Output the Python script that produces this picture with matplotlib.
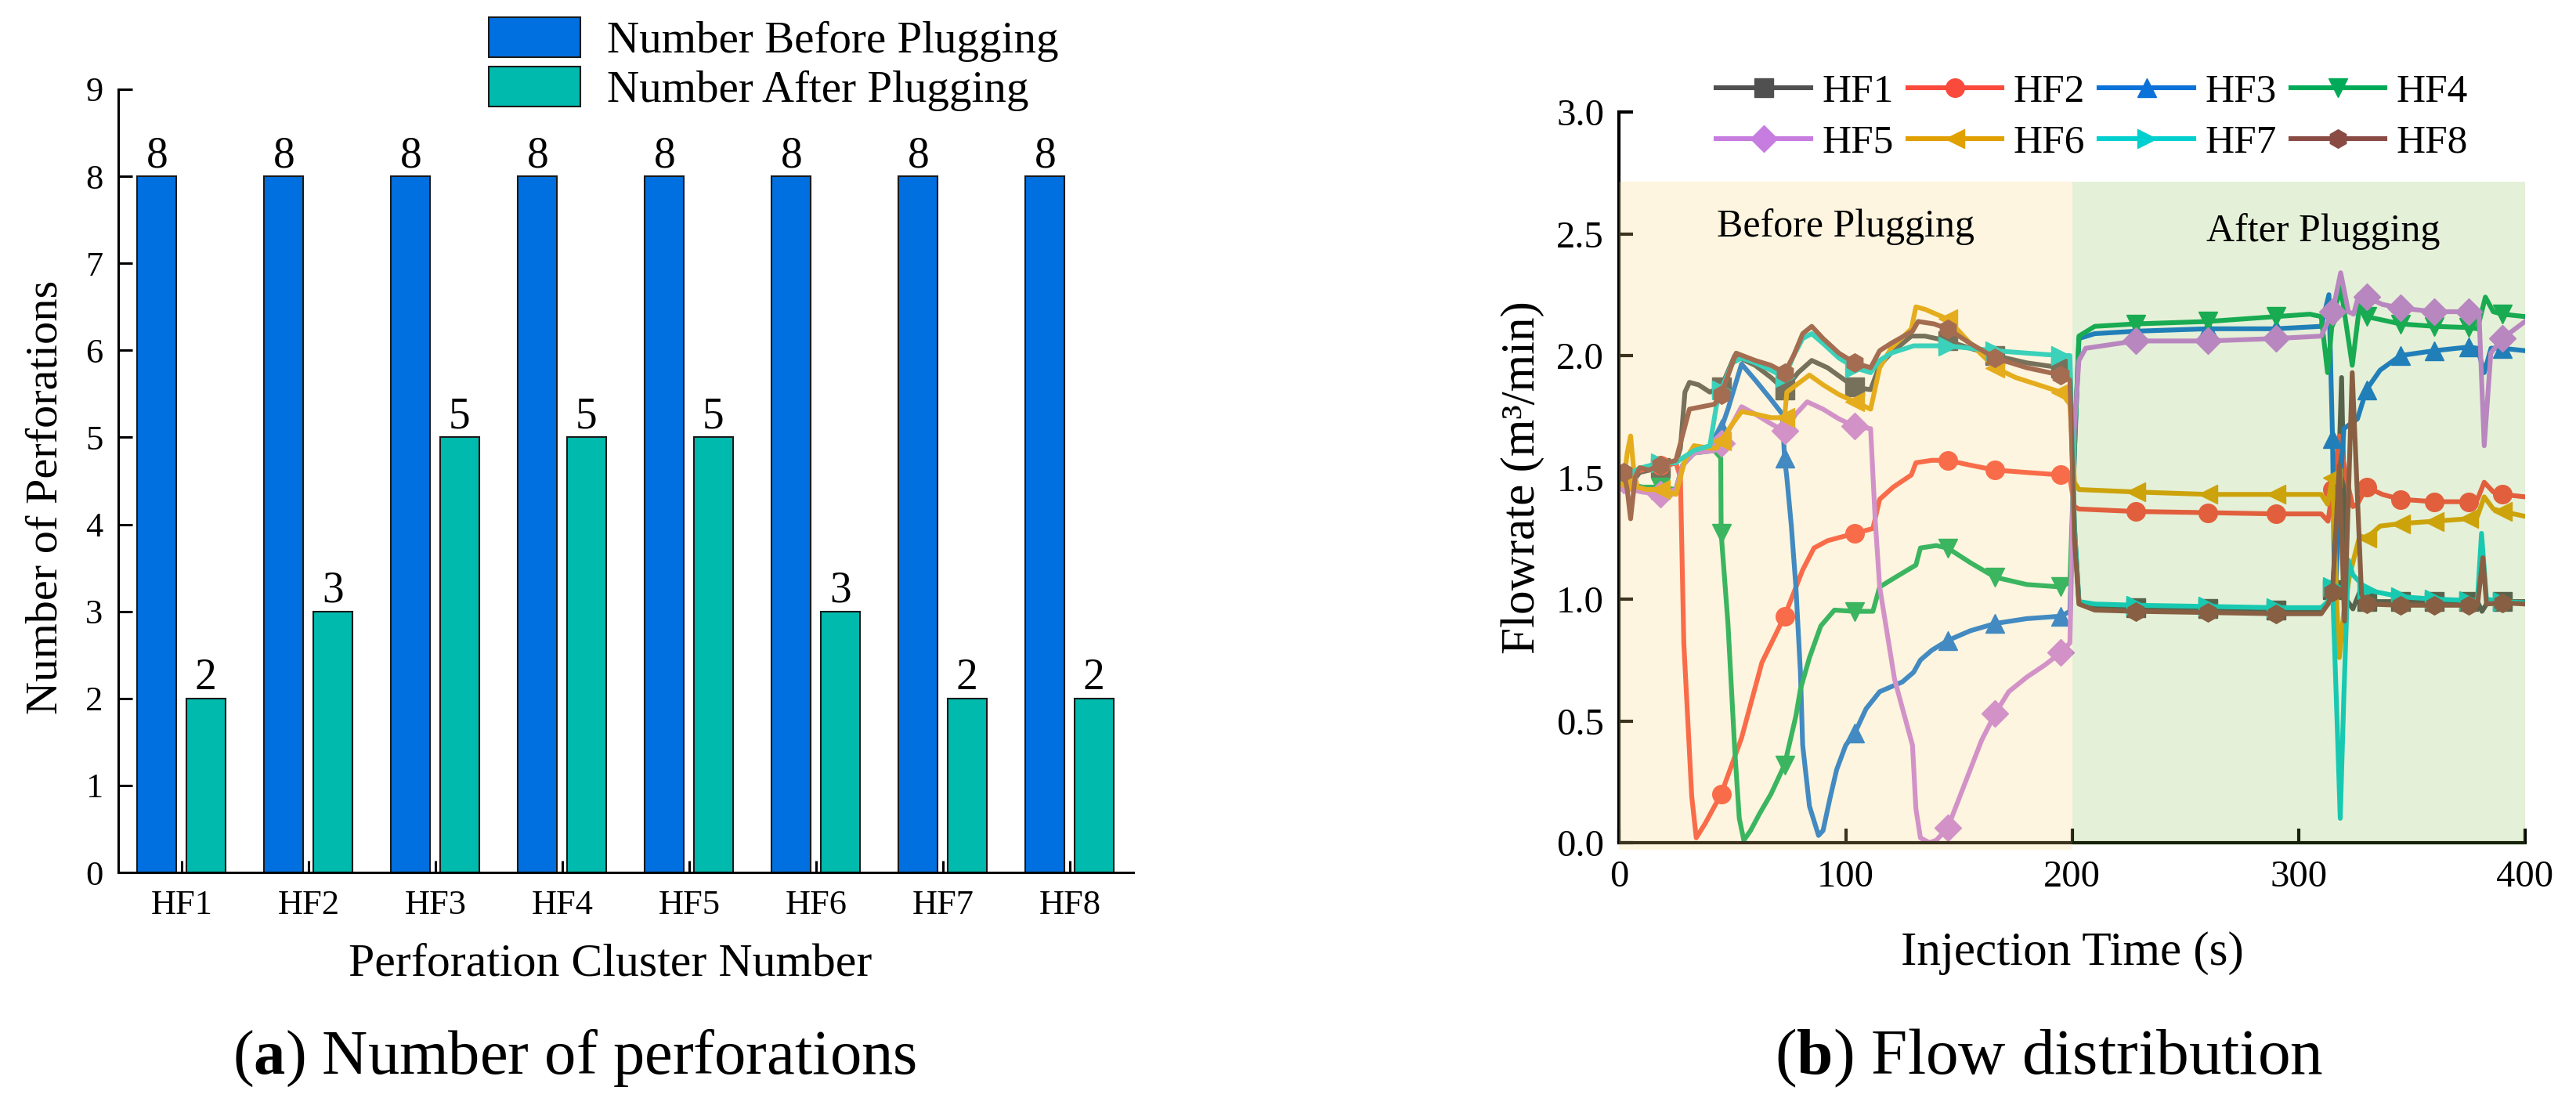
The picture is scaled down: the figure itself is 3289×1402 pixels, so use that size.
import numpy as np
import matplotlib
matplotlib.use('Agg')
import matplotlib.pyplot as plt
from matplotlib.patches import Rectangle
from matplotlib.lines import Line2D

plt.rcParams['font.family'] = ['Liberation Serif', 'DejaVu Serif']
plt.rcParams['mathtext.fontset'] = 'custom'
plt.rcParams['mathtext.rm'] = 'Liberation Serif'
plt.rcParams['mathtext.bf'] = 'Liberation Serif:bold'

# ---- (a) perforation counts
clusters = ['HF1', 'HF2', 'HF3', 'HF4', 'HF5', 'HF6', 'HF7', 'HF8']
before_plug = [8, 8, 8, 8, 8, 8, 8, 8]
after_plug = [2, 3, 5, 5, 5, 3, 2, 2]

# ---- (b) flow distribution, (time s, flowrate m3/min)
hf1_pts = [(0, 1.50), (2, 1.50), (5, 1.47), (9, 1.52), (18, 1.54), (25, 1.56), (27, 1.62), (29, 1.85),
           (31, 1.89), (35, 1.88), (40, 1.85), (45, 1.87), (51, 2.00), (60, 1.96), (67, 1.91), (73, 1.86),
           (79, 1.93), (85, 1.98), (92, 1.95), (98, 1.91), (104, 1.87), (111, 1.86), (115, 1.96), (120, 2.01),
           (129, 2.08), (135, 2.08), (145, 2.06), (155, 2.03), (166, 2.00), (180, 1.97), (195, 1.95), (199, 1.93),
           (201, 1.30), (203, 0.99), (210, 0.97), (228, 0.965), (260, 0.96), (290, 0.955), (310, 0.955), (313, 0.98),
           (315, 1.04), (317, 1.30), (319, 1.91), (321, 1.00), (324, 0.96), (327, 1.03), (330, 0.99), (345, 0.99),
           (360, 0.99), (375, 0.99), (379, 0.99), (381, 0.95), (383, 0.98), (390, 0.99), (400, 0.99)]
hf2_pts = [(0, 1.48), (2, 1.50), (5, 1.52), (10, 1.53), (18, 1.55), (25, 1.56), (27, 1.50), (28.5, 0.82),
           (32, 0.19), (34, 0.02), (38, 0.08), (45, 0.20), (54, 0.43), (63, 0.74), (73, 0.93), (81, 1.12),
           (86, 1.21), (92, 1.24), (104, 1.27), (112, 1.29), (115, 1.41), (121, 1.46), (129, 1.51), (131, 1.56),
           (138, 1.57), (145, 1.57), (155, 1.55), (166, 1.53), (180, 1.52), (195, 1.51), (199, 1.50), (201, 1.38),
           (203, 1.37), (228, 1.36), (260, 1.355), (290, 1.35), (310, 1.35), (313, 1.32), (315, 1.45), (318, 1.67),
           (321, 1.50), (324, 1.38), (326, 1.39), (330, 1.46), (337, 1.43), (345, 1.41), (360, 1.40), (375, 1.40),
           (379, 1.41), (382, 1.48), (386, 1.44), (390, 1.43), (400, 1.42)]
hf3_pts = [(0, 1.50), (2, 1.49), (5, 1.47), (10, 1.46), (18, 1.45), (25, 1.45), (28, 1.55), (33, 1.60),
           (40, 1.61), (42.5, 1.65), (45, 1.70), (48, 1.78), (54, 1.965), (60, 1.90), (67, 1.82), (72, 1.76),
           (73, 1.58), (74, 1.50), (76, 1.30), (78, 1.05), (80, 0.70), (81, 0.40), (84, 0.15), (88, 0.03),
           (90, 0.05), (93, 0.18), (96, 0.30), (100, 0.40), (104, 0.45), (109, 0.55), (115, 0.62), (125, 0.66),
           (130, 0.70), (133, 0.75), (138, 0.79), (145, 0.83), (155, 0.87), (166, 0.90), (180, 0.92), (195, 0.93),
           (199, 0.95), (201, 1.60), (203, 2.07), (210, 2.09), (228, 2.10), (260, 2.11), (290, 2.11), (310, 2.12),
           (313.4, 2.25), (315, 1.66), (316, 0.95), (318, 1.40), (320, 1.70), (326, 1.74), (330, 1.86), (336, 1.94),
           (345, 2.00), (360, 2.02), (375, 2.035), (379, 2.03), (382, 1.93), (385, 2.03), (390, 2.03), (400, 2.02)]
hf4_pts = [(0, 1.50), (2, 1.49), (5, 1.47), (10, 1.46), (18, 1.46), (25, 1.45), (28, 1.55), (33, 1.60),
           (42, 1.61), (44.8, 1.58), (45, 1.27), (48, 0.90), (51, 0.38), (53, 0.10), (55, 0.01), (58, 0.05),
           (62, 0.12), (67, 0.20), (73, 0.32), (78, 0.52), (80, 0.63), (84, 0.76), (89, 0.89), (95, 0.955),
           (104, 0.95), (112, 0.95), (115, 1.05), (122, 1.09), (131, 1.14), (133, 1.21), (140, 1.22), (145, 1.21),
           (155, 1.15), (166, 1.09), (180, 1.06), (195, 1.05), (199, 1.07), (201, 1.60), (203, 2.08), (210, 2.12),
           (228, 2.13), (260, 2.14), (290, 2.16), (305, 2.17), (310, 2.16), (312.8, 1.93), (315, 2.15), (318.6, 2.28),
           (323.7, 1.96), (327, 2.21), (330, 2.16), (345, 2.13), (360, 2.12), (375, 2.115), (379, 2.11),
           (382.5, 2.24), (386, 2.18), (390, 2.17), (400, 2.16)]
hf5_pts = [(0, 1.50), (2, 1.49), (5, 1.45), (10, 1.44), (18, 1.43), (25, 1.45), (28, 1.55), (33, 1.60),
           (42, 1.61), (45, 1.64), (50, 1.72), (54, 1.79), (60, 1.76), (67, 1.72), (73, 1.69), (78, 1.76),
           (83, 1.81), (90, 1.78), (97, 1.74), (104, 1.71), (111, 1.70), (113, 1.33), (115, 1.05), (121.6, 0.67),
           (129.5, 0.40), (131, 0.14), (133, 0.02), (137, 0.00), (140, 0.01), (145, 0.06), (150, 0.18), (155, 0.30),
           (160, 0.42), (166, 0.53), (172, 0.62), (180, 0.68), (188, 0.73), (195, 0.78), (199, 0.82), (201, 1.70),
           (203, 1.98), (206, 2.03), (228, 2.06), (260, 2.06), (290, 2.07), (310, 2.08), (312, 2.12), (315, 2.18),
           (318.6, 2.34), (322, 2.18), (324.3, 2.17), (326.6, 2.25), (330, 2.24), (337, 2.21), (345, 2.195),
           (360, 2.18), (375, 2.18), (379.7, 2.17), (382, 1.63), (384.9, 2.01), (390, 2.07), (400, 2.14)]
hf6_pts = [(0, 1.50), (2, 1.48), (3.5, 1.60), (5, 1.67), (6.5, 1.52), (8, 1.46), (12, 1.45), (18, 1.45),
           (25, 1.43), (29, 1.57), (33, 1.63), (40, 1.62), (43, 1.62), (45, 1.65), (50, 1.72), (54, 1.77),
           (60, 1.76), (67, 1.745), (73, 1.745), (74, 1.85), (84, 1.92), (90, 1.88), (97, 1.84), (104, 1.81),
           (111, 1.78), (115, 1.95), (120, 2.03), (129, 2.11), (131, 2.20), (135, 2.19), (145, 2.15), (155, 2.05),
           (166, 1.95), (175, 1.91), (185, 1.88), (195, 1.85), (199, 1.80), (201, 1.48), (203, 1.45), (228, 1.44),
           (260, 1.43), (290, 1.43), (310, 1.43), (312.8, 1.39), (315, 1.50), (317, 0.95), (318, 0.76), (320, 0.95),
           (322.6, 1.10), (327, 1.26), (330, 1.25), (336, 1.30), (345, 1.31), (360, 1.32), (375, 1.33), (379, 1.34),
           (382, 1.42), (386, 1.37), (390, 1.36), (400, 1.34)]
hf7_pts = [(0, 1.50), (2, 1.51), (5, 1.52), (10, 1.54), (18, 1.56), (25, 1.56), (28, 1.58), (33, 1.61),
           (40, 1.63), (43, 1.80), (45, 1.86), (50, 1.97), (54, 1.99), (60, 1.97), (67, 1.94), (73, 1.91),
           (77, 2.00), (81, 2.07), (85, 2.09), (90, 2.05), (97, 1.99), (104, 1.95), (111, 1.93), (115, 1.98),
           (120, 2.01), (130, 2.04), (145, 2.04), (155, 2.03), (166, 2.02), (180, 2.01), (195, 2.00), (199, 2.00),
           (201, 1.30), (203, 0.99), (210, 0.98), (228, 0.975), (260, 0.97), (290, 0.965), (310, 0.965), (313, 0.99),
           (315, 1.05), (317, 0.50), (318.4, 0.10), (320, 0.60), (322, 1.16), (324, 1.10), (327, 1.07), (330, 1.04),
           (334, 1.03), (345, 1.01), (360, 1.00), (375, 0.995), (379, 0.995), (380.8, 1.27), (383, 1.00),
           (390, 0.99), (400, 0.985)]
hf8_pts = [(0, 1.52), (2, 1.52), (3.5, 1.45), (5, 1.33), (7, 1.50), (9, 1.54), (13, 1.53), (18, 1.55),
           (25, 1.57), (31, 1.78), (42, 1.80), (45, 1.84), (51.6, 2.01), (60, 1.98), (67, 1.96), (73, 1.93),
           (77, 2.00), (81, 2.09), (85, 2.12), (90, 2.07), (97, 2.01), (104, 1.97), (111, 1.95), (115, 2.02),
           (120, 2.05), (129.5, 2.10), (132, 2.14), (139, 2.13), (145, 2.11), (155, 2.05), (166, 1.99), (180, 1.95),
           (195, 1.92), (199, 1.90), (201, 1.25), (203, 0.98), (210, 0.955), (228, 0.95), (260, 0.945), (290, 0.94),
           (310, 0.94), (313, 0.98), (315, 1.03), (318, 1.55), (320.3, 0.91), (323.7, 1.93), (327.8, 1.02),
           (330, 0.98), (345, 0.975), (360, 0.975), (375, 0.975), (379, 0.975), (381.4, 1.17), (383, 0.98),
           (390, 0.985), (400, 0.98)]

series_names = ['HF1', 'HF2', 'HF3', 'HF4', 'HF5', 'HF6', 'HF7', 'HF8']
series_pts = [hf1_pts, hf2_pts, hf3_pts, hf4_pts, hf5_pts, hf6_pts, hf7_pts, hf8_pts]
series_colors = ['#505050', '#FA4A3C', '#0A72D8', '#00AA58', '#C77CE0', '#E0A000', '#00CFCF', '#8B4B45']
series_markers = ['s', 'o', '^', 'v', 'D', '<', '>', 'h']
mark_times = [2, 18, 45, 73, 104, 145, 166, 195, 228, 260, 290, 315, 330, 345, 360, 375, 390]

fig = plt.figure(figsize=(32.89, 14.02), dpi=100)

# ================= (a) bar chart
ax1 = fig.add_axes([0.0459, 0.2054, 0.3940, 0.7133])
x = np.arange(len(clusters))
w = 0.31
b1 = ax1.bar(x - 0.195, before_plug, w, color='#0070E0', edgecolor='#1a1a1a', lw=1.5,
             label='Number Before Plugging')
b2 = ax1.bar(x + 0.19, after_plug, w, color='#00BAAD', edgecolor='#1a1a1a', lw=1.5,
             label='Number After Plugging')
ax1.bar_label(b1, fontsize=40, padding=0)
ax1.bar_label(b2, fontsize=40, padding=0)
ax1.set_xlim(-0.5, 7.5)
ax1.set_ylim(0, 9)
ax1.set_yticks(range(10))
ax1.set_xticks(x)
ax1.set_xticklabels(clusters)
for s in ['top', 'right']:
    ax1.spines[s].set_visible(False)
for s in ['left', 'bottom']:
    ax1.spines[s].set_linewidth(2.2)
ax1.tick_params(axis='y', direction='in', length=13, width=2.2, labelsize=32, pad=14)
ax1.tick_params(axis='x', direction='in', length=11, width=2.2, labelsize=32, pad=16)
ax1.set_xlabel('Perforation Cluster Number', fontsize=43)
ax1.xaxis.set_label_coords(0.4846, -0.131)
ax1.xaxis.label.set_verticalalignment('baseline')
ax1.set_ylabel('Number of Perforations', fontsize=42)
ax1.yaxis.set_label_coords(-0.051, 0.479)
ax1.yaxis.label.set_horizontalalignment('center')
ax1.legend(loc='upper left', bbox_to_anchor=(0.1897, 0.9843), bbox_transform=fig.transFigure,
           frameon=False, fontsize=41, borderpad=0, handlelength=2.05, handleheight=1.0,
           handletextpad=0.6, labelspacing=0.1, borderaxespad=0)

# ================= (b) flow distribution
ax2 = fig.add_axes([0.6286, 0.2325, 0.3516, 0.6655])
lines = []
for name, pts, col, mk in zip(series_names, series_pts, series_colors, series_markers):
    arr = np.array(pts)
    every = list(np.where(np.isin(arr[:, 0], mark_times))[0])
    ax2.plot(arr[:, 0], arr[:, 1], color=col, lw=4.4, marker=mk, ms=17,
             markevery=every, solid_joinstyle='round', zorder=2)
    lines.append(Line2D([], [], color=col, lw=4.4, marker=mk, ms=17))

# translucent stage shading laid over the curves
ax2.add_patch(Rectangle((0, -0.03), 200, 2.745, facecolor=(247/255, 217/255, 122/255),
                        alpha=0.24, lw=0, zorder=3, clip_on=False))
ax2.add_patch(Rectangle((200, -0.01), 200, 2.725, facecolor=(125/255, 180/255, 60/255),
                        alpha=0.2, lw=0, zorder=3, clip_on=False))
ax2.text(100, 2.53, 'Before Plugging', fontsize=36, ha='center', va='center', zorder=5)
ax2.text(311, 2.51, 'After Plugging', fontsize=36, ha='center', va='center', zorder=5)

ax2.set_xlim(0, 400)
ax2.set_ylim(0, 3.0)
ax2.set_xticks([0, 100, 200, 300, 400])
ax2.set_yticks(np.arange(0, 3.01, 0.5))
ax2.set_yticklabels(['%.1f' % v for v in np.arange(0, 3.01, 0.5)])
for s in ['top', 'right']:
    ax2.spines[s].set_visible(False)
for s in ['left', 'bottom']:
    ax2.spines[s].set_linewidth(3)
ax2.tick_params(axis='both', direction='in', length=13, width=3, labelsize=35)
ax2.tick_params(axis='y', pad=14)
ax2.tick_params(axis='x', pad=16)
ax2.set_xlabel('Injection Time (s)', fontsize=44)
ax2.xaxis.set_label_coords(0.5, -0.1672)
ax2.xaxis.label.set_verticalalignment('baseline')
ax2.set_ylabel('Flowrate (m³/min)', fontsize=44)
ax2.yaxis.set_label_coords(-0.0826, 0.5)

# legend fills column by column: reorder so rows read HF1-HF4, HF5-HF8
order = [0, 4, 1, 5, 2, 6, 3, 7]
ax2.legend(handles=[lines[i] for i in order], labels=[series_names[i] for i in order], ncol=4,
           loc='upper left', bbox_to_anchor=(0.6662, 0.933), bbox_transform=fig.transFigure,
           frameon=False, fontsize=37, borderpad=0, handlelength=2.35, handletextpad=0.28,
           columnspacing=0.35, labelspacing=0.35, borderaxespad=0)

# captions
fig.text(0.2229, 0.0221, r'($\mathbf{a}$) Number of perforations', fontsize=58, ha='center', va='baseline')
fig.text(0.7954, 0.0221, r'($\mathbf{b}$) Flow distribution', fontsize=60, ha='center', va='baseline')

fig.savefig('out.png', dpi=100)
